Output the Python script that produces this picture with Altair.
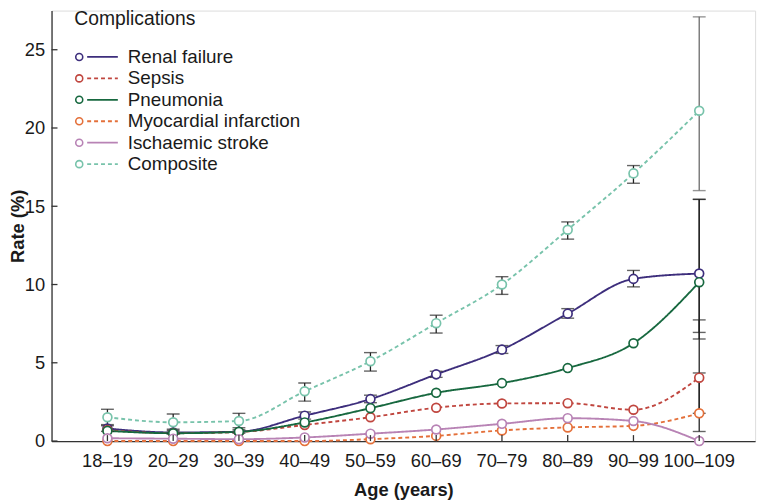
import altair as alt
import pandas as pd

ages = ["18–19", "20–29", "30–39", "40–49", "50–59", "60–69", "70–79", "80–89", "90–99", "100–109"]
series = ["Renal failure", "Sepsis", "Pneumonia", "Myocardial infarction", "Ischaemic stroke", "Composite"]
colors = ["#3d2e7c", "#c0463f", "#17683f", "#e4703a", "#b883b5", "#78c3ab"]
dashed = [False, True, False, True, False, True]

renal = [0.80, 0.55, 0.60, 1.62, 2.68, 4.26, 5.84, 8.14, 10.36, 10.70]
sepsis = [0.70, 0.50, 0.58, 1.03, 1.52, 2.13, 2.40, 2.42, 2.00, 4.05]
pneumonia = [0.65, 0.50, 0.59, 1.19, 2.10, 3.08, 3.70, 4.66, 6.25, 10.15]
mi = [0.00, 0.00, 0.00, 0.00, 0.12, 0.33, 0.68, 0.87, 0.97, 1.77]
stroke = [0.18, 0.15, 0.12, 0.23, 0.47, 0.74, 1.10, 1.46, 1.28, 0.00]
composite = [1.52, 1.20, 1.28, 3.18, 5.10, 7.53, 10.00, 13.50, 17.10, 21.10]

renal_lo = [0.62, 0.45, 0.50, 1.40, 2.45, 4.07, 5.60, 7.85, 9.85, 6.94]
renal_hi = [0.98, 0.66, 0.72, 1.86, 2.93, 4.46, 6.10, 8.46, 10.90, 15.44]
comp_lo = [1.05, 0.75, 0.85, 2.55, 4.47, 6.90, 9.37, 12.90, 16.47, 16.00]
comp_hi = [2.03, 1.73, 1.77, 3.71, 5.65, 8.04, 10.50, 14.00, 17.60, 27.10]
# only the oldest group has visible intervals for these series
pneu_ci_oldest = [6.52, 15.44]
sepsis_ci_oldest = [1.77, 7.74]
mi_ci_oldest = [0.61, 4.35]

values = {
    "Renal failure": renal, "Sepsis": sepsis, "Pneumonia": pneumonia,
    "Myocardial infarction": mi, "Ischaemic stroke": stroke, "Composite": composite,
}

rows = []
for s in series:
    for a, v in zip(ages, values[s]):
        rows.append({"series": s, "age": a, "rate": v})
df = pd.DataFrame(rows)

err = []
for a, lo, hi in zip(ages, renal_lo, renal_hi):
    err.append({"series": "Renal failure", "age": a, "lo": lo, "hi": hi})
for a, lo, hi in zip(ages, comp_lo, comp_hi):
    err.append({"series": "Composite", "age": a, "lo": lo, "hi": hi})
err.append({"series": "Pneumonia", "age": ages[-1], "lo": pneu_ci_oldest[0], "hi": pneu_ci_oldest[1]})
err.append({"series": "Sepsis", "age": ages[-1], "lo": sepsis_ci_oldest[0], "hi": sepsis_ci_oldest[1]})
err.append({"series": "Myocardial infarction", "age": ages[-1], "lo": mi_ci_oldest[0], "hi": mi_ci_oldest[1]})
edf = pd.DataFrame(err)
ecaps = pd.concat([
    edf[["series", "age"]].assign(v=edf["lo"]),
    edf[["series", "age"]].assign(v=edf["hi"]),
])

W, H = 711, 435
FONT = "Liberation Sans"
ymax = 27.5

color_scale = alt.Scale(domain=series, range=colors)
dash_scale = alt.Scale(domain=series, range=[[4, 3] if d else [1, 0] for d in dashed])
xscale = alt.Scale(domain=ages, padding=0.7)

xenc = alt.X("age:N", sort=ages, scale=xscale,
             axis=alt.Axis(title="Age (years)", labelAngle=0, ticks=False, labelPadding=11,
                           labelFontSize=18.5, titleFontSize=18.5, titleFontWeight="bold",
                           titlePadding=11, domainColor="#333", domainWidth=1.3,
                           labelColor="#1a1a1a", titleColor="#1a1a1a", grid=False))
yscale = alt.Scale(domain=[0, ymax], nice=False)
yenc_axis = alt.Y("rate:Q", scale=yscale,
                  axis=alt.Axis(title="Rate (%)", values=[0, 5, 10, 15, 20, 25], ticks=False,
                                labelPadding=7, labelFontSize=18.5, titleFontSize=18.5,
                                titleFontWeight="bold", titleX=-43, titleBaseline="top",
                                domainColor="#333",
                                domainWidth=1.3, labelColor="#1a1a1a", titleColor="#1a1a1a",
                                grid=False))

base = alt.Chart(df)

lines = base.mark_line(interpolate="monotone", strokeWidth=1.9).encode(
    x=xenc, y=yenc_axis,
    color=alt.Color("series:N", scale=color_scale, legend=None),
    strokeDash=alt.StrokeDash("series:N", scale=dash_scale, legend=None),
    detail="series:N",
)

errc = alt.condition(
    (alt.datum.series == "Composite") & (alt.datum.age == "100–109"),
    alt.value("#6a6a6a"), alt.value("#222222"))

ebars = alt.Chart(edf).mark_rule(strokeWidth=1.3).encode(
    x=alt.X("age:N", sort=ages, scale=xscale),
    y=alt.Y("lo:Q", scale=yscale),
    y2="hi:Q",
    color=errc,
)
caps = alt.Chart(ecaps).mark_tick(size=13, thickness=1.4).encode(
    x=alt.X("age:N", sort=ages, scale=xscale),
    y=alt.Y("v:Q", scale=yscale),
    color=errc,
)

points = base.mark_point(shape="circle", filled=False, fill="white", fillOpacity=1,
                         size=80, strokeWidth=1.7, opacity=1).encode(
    x=alt.X("age:N", sort=ages, scale=xscale),
    y=alt.Y("rate:Q", scale=yscale),
    color=alt.Color("series:N", scale=color_scale, legend=None),
)

# inward axis ticks
ytick_df = pd.DataFrame({"t": [0, 5, 10, 15, 20, 25]})
yticks = alt.Chart(ytick_df).mark_rule(color="#333", strokeWidth=1.3).encode(
    y=alt.Y("t:Q", scale=yscale), x=alt.value(0), x2=alt.value(6))
xtick_df = pd.DataFrame({"age": ages})
xticks = alt.Chart(xtick_df).mark_rule(color="#333", strokeWidth=1.3).encode(
    x=alt.X("age:N", sort=ages, scale=xscale),
    y=alt.value(H - 6), y2=alt.value(H))

main = alt.layer(lines, ebars, caps, points, yticks, xticks)

# custom legend
ldf = pd.DataFrame({"series": series})
lscale = alt.Scale(domain=series, range=[36, 166], padding=0)
ly = alt.Y("series:N", scale=lscale, axis=None, sort=series)
leg_lines = alt.Chart(ldf).mark_rule(strokeWidth=1.8).encode(
    y=ly, x=alt.value(36), x2=alt.value(67),
    color=alt.Color("series:N", scale=color_scale, legend=None),
    strokeDash=alt.StrokeDash("series:N", scale=dash_scale, legend=None),
)
leg_pts = alt.Chart(ldf).mark_point(shape="circle", filled=False, fill="white", fillOpacity=1,
                                    size=50, strokeWidth=1.6, opacity=1).encode(
    y=ly, x=alt.value(28),
    color=alt.Color("series:N", scale=color_scale, legend=None),
)
leg_text = alt.Chart(ldf).mark_text(align="left", baseline="middle", fontSize=19,
                                    font=FONT, color="#1a1a1a").encode(
    y=ly, x=alt.value(77), text="series:N")
leg_title = alt.Chart(pd.DataFrame({"t": ["Complications"]})).mark_text(
    align="left", baseline="middle", fontSize=19.5, font=FONT, color="#1a1a1a").encode(
    x=alt.value(23), y=alt.value(9), text="t:N")

legend = alt.layer(leg_lines, leg_pts, leg_text, leg_title)

chart = alt.layer(main, legend).resolve_scale(y="independent").properties(
    width=W, height=H,
    autosize=alt.AutoSizeParams(type="none"),
    padding={"left": 44, "top": 0, "right": 10, "bottom": 62},
).configure_view(stroke=None).configure(font=FONT).configure_axis(labelFont=FONT, titleFont=FONT)

chart.save("out.html", embed_options={"renderer": "svg", "actions": False})
